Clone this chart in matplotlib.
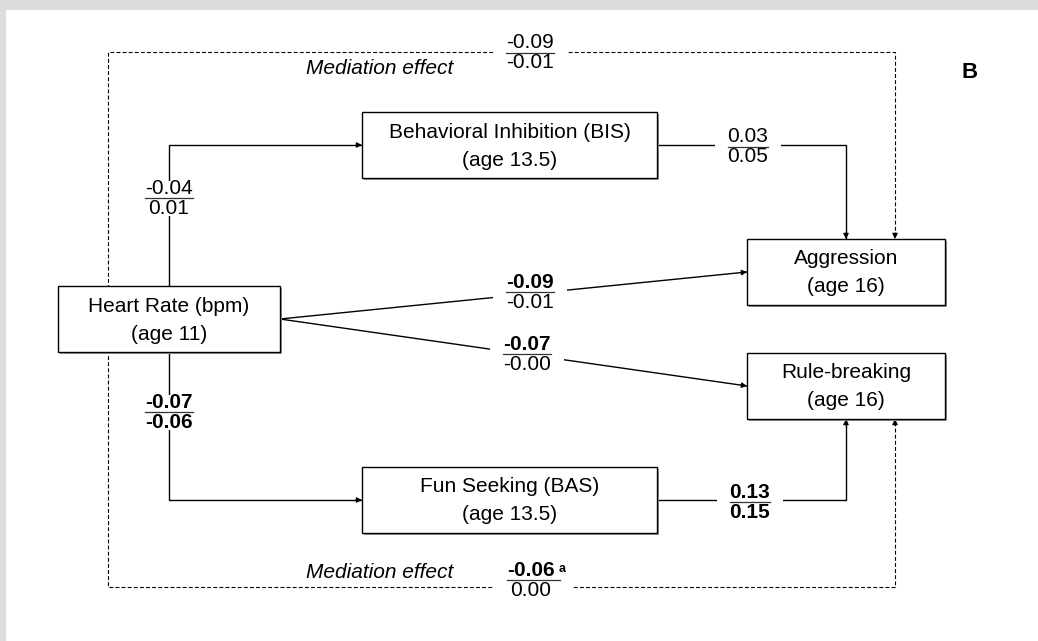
import matplotlib
matplotlib.use("Agg")
import matplotlib.pyplot as plt
from matplotlib.patches import Rectangle

plt.rcParams['font.family'] = ['Liberation Sans', 'DejaVu Sans']

# variables of the path model
names = ["Heart Rate (bpm)", "Behavioral Inhibition (BIS)", "Fun Seeking (BAS)",
         "Aggression", "Rule-breaking"]
ages = ["(age 11)", "(age 13.5)", "(age 13.5)", "(age 16)", "(age 16)"]

# path estimates: first line / second line of each label
est_top = ["-0.04", "-0.07", "0.03", "0.13", "-0.09", "-0.07", "-0.09", "-0.06"]
est_bottom = ["0.01", "-0.06", "0.05", "0.15", "-0.01", "-0.00", "-0.01", "0.00"]
top_bold = [False, True, False, True, True, True, False, True]
bottom_bold = [False, True, False, True, False, False, False, False]
footnote = ["", "", "", "", "", "", "", "a"]
mediation_text = "Mediation effect"
panel_letter = "B"

# layout (pixels, y down)
box_left = [58, 362, 362, 747, 747]
box_top = [286, 112, 467, 239, 353]
box_w = [222, 295, 295, 198, 198]
box_h = 66
loop_left, loop_right, loop_top, loop_bot = 108, 895, 52, 587
label_x = [169, 169, 748, 750, 530, 527, 530, 531]
label_y = [198, 412, 147, 502, 292, 354, 53, 580]

fig = plt.figure(figsize=(10.38, 6.41), dpi=100, facecolor='#dddddd')
ax = fig.add_axes([6 / 1038, 0, 1032 / 1038, 631 / 641])
ax.set_xlim(6, 1038)
ax.set_ylim(641, 10)
ax.axis('off')
ax.add_patch(Rectangle((0, 0), 1, 1, transform=ax.transAxes, fc='white', ec='none', zorder=0))

FS = 15

cx = [l + w / 2 for l, w in zip(box_left, box_w)]
cy = [t + box_h / 2 for t in box_top]
right = [l + w for l, w in zip(box_left, box_w)]
bottom = [t + box_h for t in box_top]

for i in range(len(names)):
    ax.add_patch(Rectangle((box_left[i] + 1.5, box_top[i] + 1.5), box_w[i], box_h,
                           fc='#999999', ec='none', zorder=3))
    ax.add_patch(Rectangle((box_left[i], box_top[i]), box_w[i], box_h,
                           fc='white', ec='black', lw=1.0, zorder=4))
    ax.text(cx[i], box_top[i] + 20, names[i], ha='center', va='center', fontsize=FS, zorder=5)
    ax.text(cx[i], box_top[i] + 48, ages[i], ha='center', va='center', fontsize=FS, zorder=5)

paths = [
    [(cx[0], box_top[0]), (cx[0], cy[1]), (box_left[1], cy[1])],
    [(cx[0], bottom[0]), (cx[0], cy[2]), (box_left[2], cy[2])],
    [(right[1], cy[1]), (cx[3], cy[1]), (cx[3], box_top[3])],
    [(right[2], cy[2]), (cx[4], cy[2]), (cx[4], bottom[4])],
    [(right[0], cy[0]), (box_left[3], cy[3])],
    [(right[0], cy[0]), (box_left[4], cy[4])],
    [(loop_left, cy[0]), (loop_left, loop_top), (loop_right, loop_top), (loop_right, box_top[3])],
    [(loop_left, cy[0]), (loop_left, loop_bot), (loop_right, loop_bot), (loop_right, bottom[4])],
]
dashed = [False] * 6 + [True] * 2

for p, d in zip(paths, dashed):
    xs = [q[0] for q in p]
    ys = [q[1] for q in p]
    if d:
        ax.plot(xs, ys, color='black', lw=0.8, ls=(0, (3.5, 2)), zorder=1)
    else:
        ax.plot(xs, ys, color='black', lw=1.0, zorder=1)
    (x0, y0), (x1, y1) = p[-2], p[-1]
    L = ((x1 - x0) ** 2 + (y1 - y0) ** 2) ** 0.5
    ax.annotate('', xy=(x1, y1), xytext=(x1 - (x1 - x0) / L * 6, y1 - (y1 - y0) / L * 6),
                arrowprops=dict(arrowstyle='-|>', color='black', lw=0.8,
                                mutation_scale=8, shrinkA=0, shrinkB=0), zorder=2)

# fraction labels
nums, dens = [], []
for i in range(len(est_top)):
    n = ax.text(label_x[i], label_y[i] - 0.5, est_top[i], ha='center', va='bottom', fontsize=FS,
                fontweight='bold' if top_bold[i] else 'normal', zorder=6)
    d = ax.text(label_x[i], label_y[i] + 0.5, est_bottom[i], ha='center', va='top', fontsize=FS,
                fontweight='bold' if bottom_bold[i] else 'normal', zorder=6)
    nums.append(n)
    dens.append(d)

fig.canvas.draw()
r = fig.canvas.get_renderer()
inv = ax.transData.inverted()


def extent(t):
    bb = t.get_window_extent(r).transformed(inv)
    return min(bb.x0, bb.x1), max(bb.x0, bb.x1), min(bb.y0, bb.y1), max(bb.y0, bb.y1)


for i in range(len(est_top)):
    a = extent(nums[i])
    b = extent(dens[i])
    xl, xr = min(a[0], b[0]), max(a[1], b[1])
    yt, yb = min(a[2], b[2]), max(a[3], b[3])
    if footnote[i]:
        ax.text(a[1] + 4, a[2] + 2, footnote[i], fontsize=9, fontweight='bold',
                ha='left', va='top', zorder=6)
        xr = a[1] + 5
    ax.add_patch(Rectangle((xl - 13, yt + 2), xr - xl + 26, yb - yt - 4,
                           fc='white', ec='none', zorder=2.5))
    ax.plot([xl, xr], [label_y[i], label_y[i]], color='#333333', lw=0.9, zorder=6)

for y in (68, 572):
    ax.text(380, y, mediation_text, style='italic', ha='center', va='center', fontsize=FS, zorder=6)

ax.text(970, 72, panel_letter, fontweight='bold', ha='center', va='center', fontsize=16, zorder=6)

fig.savefig('out.png', dpi=100, facecolor='#dddddd')
